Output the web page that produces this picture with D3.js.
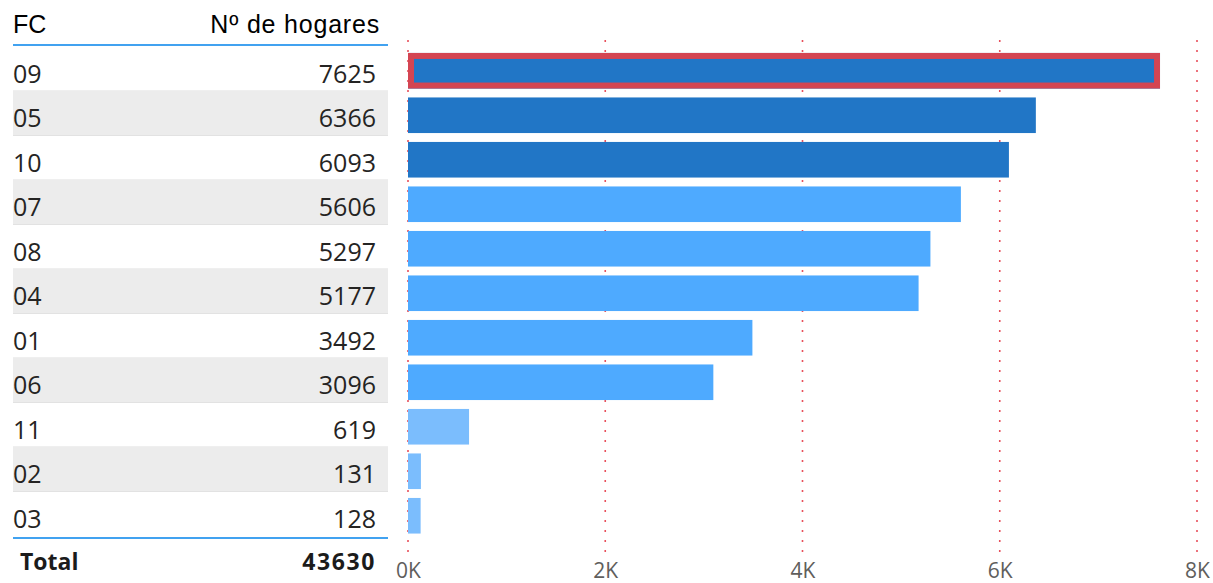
<!DOCTYPE html>
<html>
<head>
<meta charset="utf-8">
<script src="https://cdn.jsdelivr.net/npm/d3@7"></script>
<style>
  html, body { margin: 0; padding: 0; background: #fff; }
  svg { display: block; font-family: "Open Sans", "Noto Sans", sans-serif; }
</style>
</head>
<body>
<svg id="chart" width="1213" height="583"></svg>
<script>
// Households per FC, sorted descending
const categories = ["09", "05", "10", "07", "08", "04", "01", "06", "11", "02", "03"];
const values = [7625, 6366, 6093, 5606, 5297, 5177, 3492, 3096, 619, 131, 128];
const xTicks = [0, 2000, 4000, 6000, 8000];
const headerLabels = ["FC", "Nº de hogares"];
const totalLabel = "Total";
const selectedCategory = "09";

const data = categories.map((c, i) => ({ cat: c, value: values[i] }));
const total = d3.sum(values);

const svg = d3.select("#chart");

// Shared vertical layout for table rows and bars
const y = d3.scaleBand()
  .domain(categories)
  .range([48.5, 48.5 + categories.length * 44.5])
  .paddingInner(0.2)
  .paddingOuter(0.1);
const step = y.step();

const x = d3.scaleLinear().domain([0, 8000]).range([408, 1197]);

const shade = d3.scaleThreshold()
  .domain([1000, 6000])
  .range(["#7bbdfd", "#4eaaff", "#2176c6"]);

// ---------- table ----------
const table = svg.append("g");
const tableLeft = 13, tableRight = 388;

// alternating row backgrounds
table.selectAll("rect.row")
  .data(data)
  .join("rect")
  .attr("class", "row")
  .attr("x", tableLeft)
  .attr("y", d => y(d.cat) - 6)
  .attr("width", tableRight - tableLeft)
  .attr("height", step)
  .attr("fill", (d, i) => i % 2 ? "#ececec" : "#ffffff");

// faint row separators
table.selectAll("line.sep")
  .data(data.slice(1))
  .join("line")
  .attr("class", "sep")
  .attr("x1", tableLeft).attr("x2", tableRight)
  .attr("y1", d => y(d.cat) - 6.5)
  .attr("y2", d => y(d.cat) - 6.5)
  .attr("stroke", "#e2e2e2")
  .attr("stroke-width", 1);

// header
const headFont = "\"Liberation Sans\", Arial, sans-serif";
table.append("text")
  .attr("x", 13).attr("y", 33)
  .attr("font-family", headFont)
  .attr("font-size", 25).attr("fill", "#000")
  .text(headerLabels[0]);
table.append("text")
  .attr("x", 380).attr("y", 33)
  .attr("text-anchor", "end")
  .attr("font-family", headFont)
  .attr("font-size", 25).attr("fill", "#000")
  .attr("letter-spacing", 0.8)
  .text(headerLabels[1]);

table.append("line")
  .attr("x1", tableLeft).attr("x2", tableRight)
  .attr("y1", 45).attr("y2", 45)
  .attr("stroke", "#41a2f0").attr("stroke-width", 2);

// body cells
table.selectAll("text.cat")
  .data(data)
  .join("text")
  .attr("class", "cat")
  .attr("x", 13)
  .attr("y", d => y(d.cat) + y.bandwidth() / 2 + 12)
  .attr("font-size", 25).attr("fill", "#252423")
  .text(d => d.cat);

table.selectAll("text.val")
  .data(data)
  .join("text")
  .attr("class", "val")
  .attr("x", 376)
  .attr("y", d => y(d.cat) + y.bandwidth() / 2 + 12)
  .attr("text-anchor", "end")
  .attr("font-size", 25).attr("fill", "#252423")
  .text(d => d.value);

// total row
table.append("line")
  .attr("x1", tableLeft).attr("x2", tableRight)
  .attr("y1", 538).attr("y2", 538)
  .attr("stroke", "#41a2f0").attr("stroke-width", 2);
table.append("text")
  .attr("x", 20).attr("y", 570)
  .attr("font-size", 23).attr("font-weight", "bold").attr("fill", "#1b1b1b")
  .text(totalLabel);
table.append("text")
  .attr("x", 376).attr("y", 570)
  .attr("text-anchor", "end")
  .attr("font-size", 23).attr("font-weight", "bold").attr("fill", "#1b1b1b")
  .attr("letter-spacing", 1.6)
  .text(total);

// ---------- bar chart ----------
const chart = svg.append("g");

// dotted vertical gridlines
chart.selectAll("line.grid")
  .data(xTicks)
  .join("line")
  .attr("class", "grid")
  .attr("x1", d => x(d)).attr("x2", d => x(d))
  .attr("y1", 40).attr("y2", 552)
  .attr("stroke", "#e8505c")
  .attr("stroke-width", 1.6)
  .attr("stroke-dasharray", "2 8");

// bars
chart.selectAll("rect.bar")
  .data(data)
  .join("rect")
  .attr("class", "bar")
  .attr("x", x(0))
  .attr("y", d => y(d.cat))
  .attr("width", d => x(d.value) - x(0))
  .attr("height", y.bandwidth())
  .attr("fill", d => shade(d.value));

// highlighted bar outline
const sel = data.find(d => d.cat === selectedCategory);
chart.append("rect")
  .attr("x", x(0) + 3)
  .attr("y", y(sel.cat) + 3)
  .attr("width", x(sel.value) - x(0) - 6)
  .attr("height", y.bandwidth() - 6)
  .attr("fill", "none")
  .attr("stroke", "#d44552")
  .attr("stroke-width", 6);

// x axis tick labels
const xAxis = d3.axisBottom(x)
  .tickValues(xTicks)
  .tickSize(0)
  .tickPadding(0)
  .tickFormat(d => (d / 1000) + "K");
const axisG = chart.append("g")
  .attr("transform", "translate(0,578)")
  .call(xAxis);
axisG.select(".domain").remove();
axisG.selectAll("text")
  .attr("font-family", "\"Open Sans\", \"Noto Sans\", sans-serif")
  .attr("font-size", 21)
  .attr("fill", "#605e5c")
  .attr("dy", 0);
</script>
</body>
</html>
